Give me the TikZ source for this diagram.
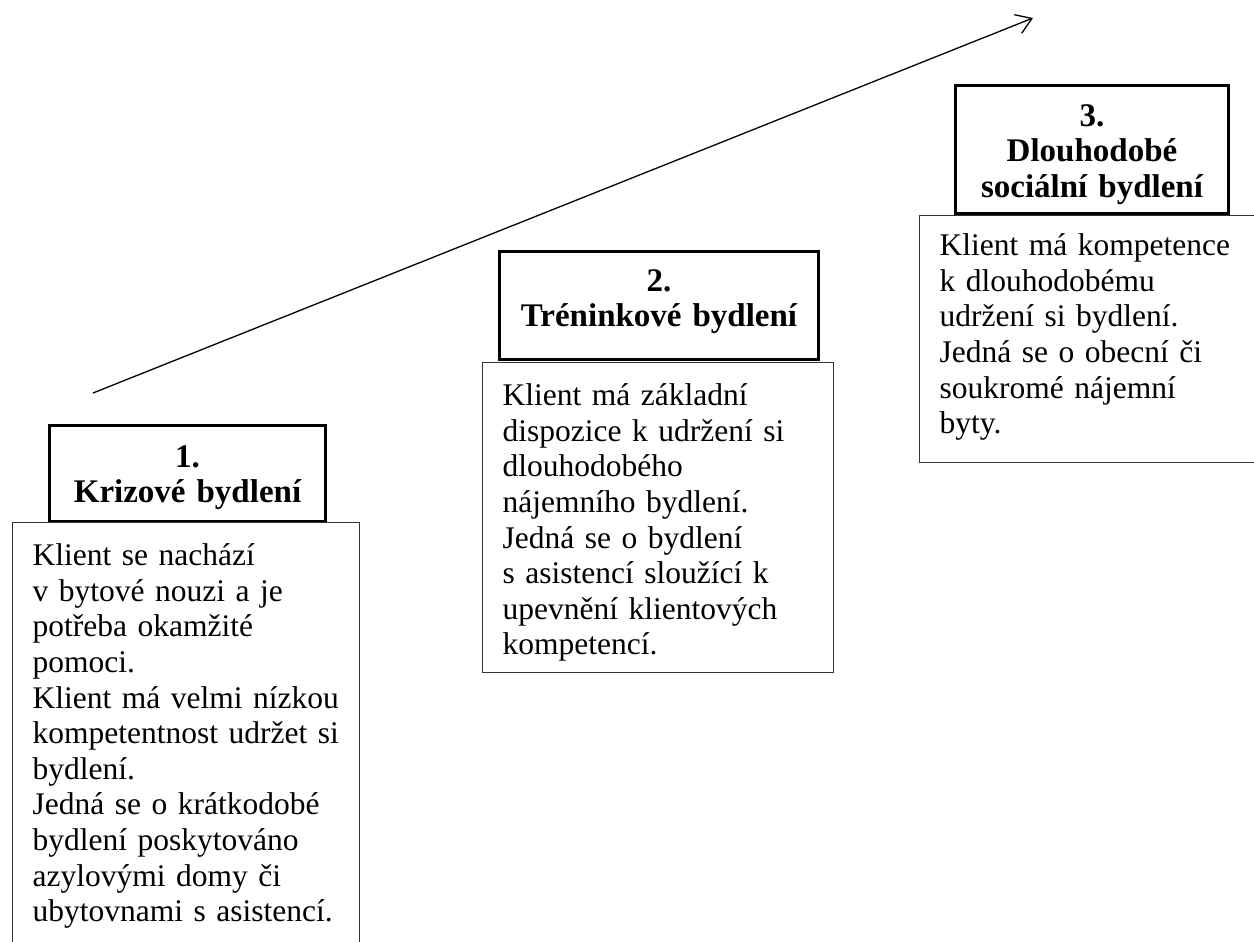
\documentclass[tikz,border=0pt]{standalone}
\usepackage{fontspec}
\setmainfont{Liberation Serif}
\usetikzlibrary{arrows.meta}
\tikzstyle{titlebox}=[draw,line width=3,fill=white,inner sep=0,align=center,
  font=\fontsize{33}{35.4}\selectfont\bfseries,anchor=north west]
\tikzstyle{textbox}=[draw=black!80,line width=1.3,fill=white,inner xsep=20,inner ysep=5,
  align=left,font=\fontsize{31.5}{35.6}\selectfont,anchor=north west]
\tikzstyle{growth}=[-{Straight Barb[length=15,width=20]},line width=1.3]

\begin{document}
\begin{tikzpicture}[x=1pt,y=-1pt]
  
  \useasboundingbox (0,0) rectangle (1254,942);
  \coordinate (S) at (93,393);
  \coordinate (E) at (1033,18);
  
  % ARROW
  \draw[growth] (S) -- (E);
  
  % STEP 1
  \node[titlebox,text width=276,text height=42,text depth=54] (T1) at (48,424)
    {1.\\Krizové bydlení};
  \node[textbox,text width=307,text height=38,text depth=400] (B1) at (12,522)
    {Klient se nachází\\v bytové nouzi a je\\potřeba okamžité\\pomoci.\\
     Klient má velmi nízkou\\kompetentnost udržet si\\bydlení.\\
     Jedná se o krátkodobé\\bydlení poskytováno\\azylovými domy či\\ubytovnami s asistencí.};
  
  % STEP 2
  \node[titlebox,text width=319,text height=40,text depth=68] (T2) at (498,250)
    {2.\\Tréninkové bydlení};
  \node[textbox,text width=311,text height=38,text depth=262] (B2) at (482,362)
    {Klient má základní\\dispozice k udržení si\\dlouhodobého\\nájemního bydlení.\\
     Jedná se o bydlení\\s asistencí sloužící k\\upevnění klientových\\kompetencí.};
  
  % STEP 3
  \node[titlebox,text width=273,text height=41,text depth=87] (T3) at (954,84)
    {3.\\Dlouhodobé\\sociální bydlení};
  \node[textbox,text width=300,text height=35,text depth=202] (B3) at (919,215)
    {Klient má kompetence\\k dlouhodobému\\udržení si bydlení.\\
     Jedná se o obecní či\\soukromé nájemní\\byty.};
  
\end{tikzpicture}
\end{document}
